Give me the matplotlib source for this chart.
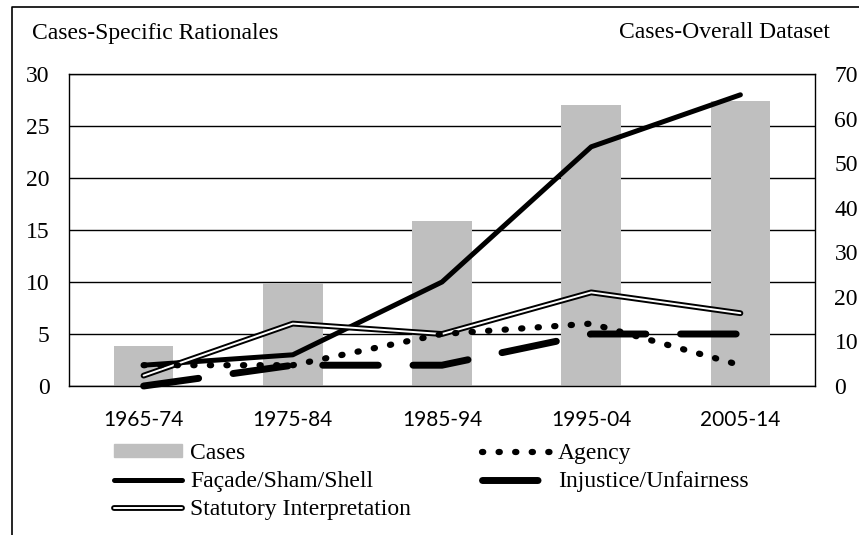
import matplotlib
matplotlib.use('Agg')
import matplotlib.pyplot as plt
from matplotlib.lines import Line2D
from matplotlib.patches import Patch
import numpy as np

# data
periods = ['1965-74', '1975-84', '1985-94', '1995-04', '2005-14']
cases = [9, 23, 37, 63, 64]          # right axis
facade = [2, 3, 10, 23, 28]          # left axis
agency = [2, 2, 5, 6, 2]
injustice = [0, 2, 2, 5, 5]
statutory = [1, 6, 5, 9, 7]

W, H = 859, 535
SERIF = 'Liberation Serif'
FS = 17

fig = plt.figure(figsize=(W / 100, H / 100), dpi=100)


def box(l, t, r, b):
    # pixel box -> figure fraction rect
    return [l / W, 1 - b / H, (r - l) / W, (b - t) / H]


rect = box(69, 74, 815, 386)
ax = fig.add_axes(rect)          # grid + left labels + x labels
ax2 = ax.twinx()                 # bars, right scale
ax3 = fig.add_axes(rect, sharex=ax, sharey=ax)  # lines on top

ax.set_zorder(0)
ax2.set_zorder(1)
ax3.set_zorder(2)
ax2.patch.set_visible(False)
ax3.patch.set_visible(False)

x = np.arange(len(periods))
ax.set_xlim(-0.5, len(periods) - 0.5)
ax.set_ylim(0, 30)
ax2.set_ylim(0, 70)

# grid on the bottom layer so the bars hide it
ax.set_yticks(range(0, 31, 5))
ax.yaxis.grid(True, color='black', lw=1.0)
ax.set_xticks(x)
ax.set_xticklabels(periods, family='Lato', fontsize=15)
ax.tick_params(axis='x', length=0, pad=17.5)
ax.tick_params(axis='y', length=0, pad=14)
for lab in ax.get_yticklabels():
    lab.set_family(SERIF)
    lab.set_fontsize(FS)
for s in ax.spines.values():
    s.set_visible(False)

ax2.bar(x, cases, width=0.4, color='#BFBFBF')
ax2.set_yticks(range(0, 71, 10))
ax2.tick_params(axis='y', length=0, pad=14)
for lab in ax2.get_yticklabels():
    lab.set_family(SERIF)
    lab.set_fontsize(FS)
for s in ax2.spines.values():
    s.set_visible(False)

ax3.tick_params(labelleft=False, labelbottom=False, length=0)
for s in ax3.spines.values():
    s.set_color('black')
    s.set_linewidth(1.0)

DOTS = (0, (0.2, 2.45))
DASH = (0, (8.0, 5.0))

ax3.plot(x, facade, color='black', lw=3.6, solid_capstyle='round',
         solid_joinstyle='round', clip_on=False)
ax3.plot(x, statutory, color='black', lw=4.2, solid_capstyle='round',
         solid_joinstyle='round', clip_on=False)
ax3.plot(x, statutory, color='white', lw=1.4, solid_capstyle='round',
         solid_joinstyle='round', clip_on=False)
ax3.plot(x, agency, color='black', lw=4.5, linestyle=DOTS,
         dash_capstyle='round', clip_on=False)
ax3.plot(x, injustice, color='black', lw=5, linestyle=DASH,
         dash_capstyle='round', dash_joinstyle='round', clip_on=False)

# legend, two columns
h_cases = Patch(color='#BFBFBF')
h_fac = Line2D([], [], color='black', lw=3.6, solid_capstyle='round')
h_stat = (Line2D([], [], color='black', lw=4.2, solid_capstyle='round'),
          Line2D([], [], color='white', lw=1.4, solid_capstyle='round'))
h_ag = Line2D([], [], color='black', lw=4.5, linestyle=DOTS,
              dash_capstyle='round')
h_inj = Line2D([], [], color='black', lw=5, linestyle=DASH,
               dash_capstyle='round')

leg_kw = dict(loc='upper left', frameon=False,
              prop={'family': SERIF, 'size': FS}, handlelength=2.88,
              handleheight=0.47, handletextpad=0.34, labelspacing=0.3,
              borderpad=0, borderaxespad=0)
fig.legend([h_cases, h_fac, h_stat],
           ['Cases', 'Façade/Sham/Shell', 'Statutory Interpretation'],
           bbox_to_anchor=(114 / W, 1 - 443 / H), **leg_kw)
fig.legend([h_ag, h_inj], ['Agency', 'Injustice/Unfairness'],
           bbox_to_anchor=(482 / W, 1 - 443 / H), **leg_kw)

fig.text(32 / W, 1 - 33 / H, 'Cases-Specific Rationales', ha='left',
         va='center', family=SERIF, fontsize=FS)
fig.text(830 / W, 1 - 33 / H, 'Cases-Overall Dataset', ha='right',
         va='center', family=SERIF, fontsize=FS)

# outer frame (left and top edges visible)
fig.add_artist(Line2D([12 / W, 12 / W, 1.0], [0.0, 1 - 7 / H, 1 - 7 / H],
                      transform=fig.transFigure, color='black', lw=1.2))

fig.savefig('out.png', dpi=100)
